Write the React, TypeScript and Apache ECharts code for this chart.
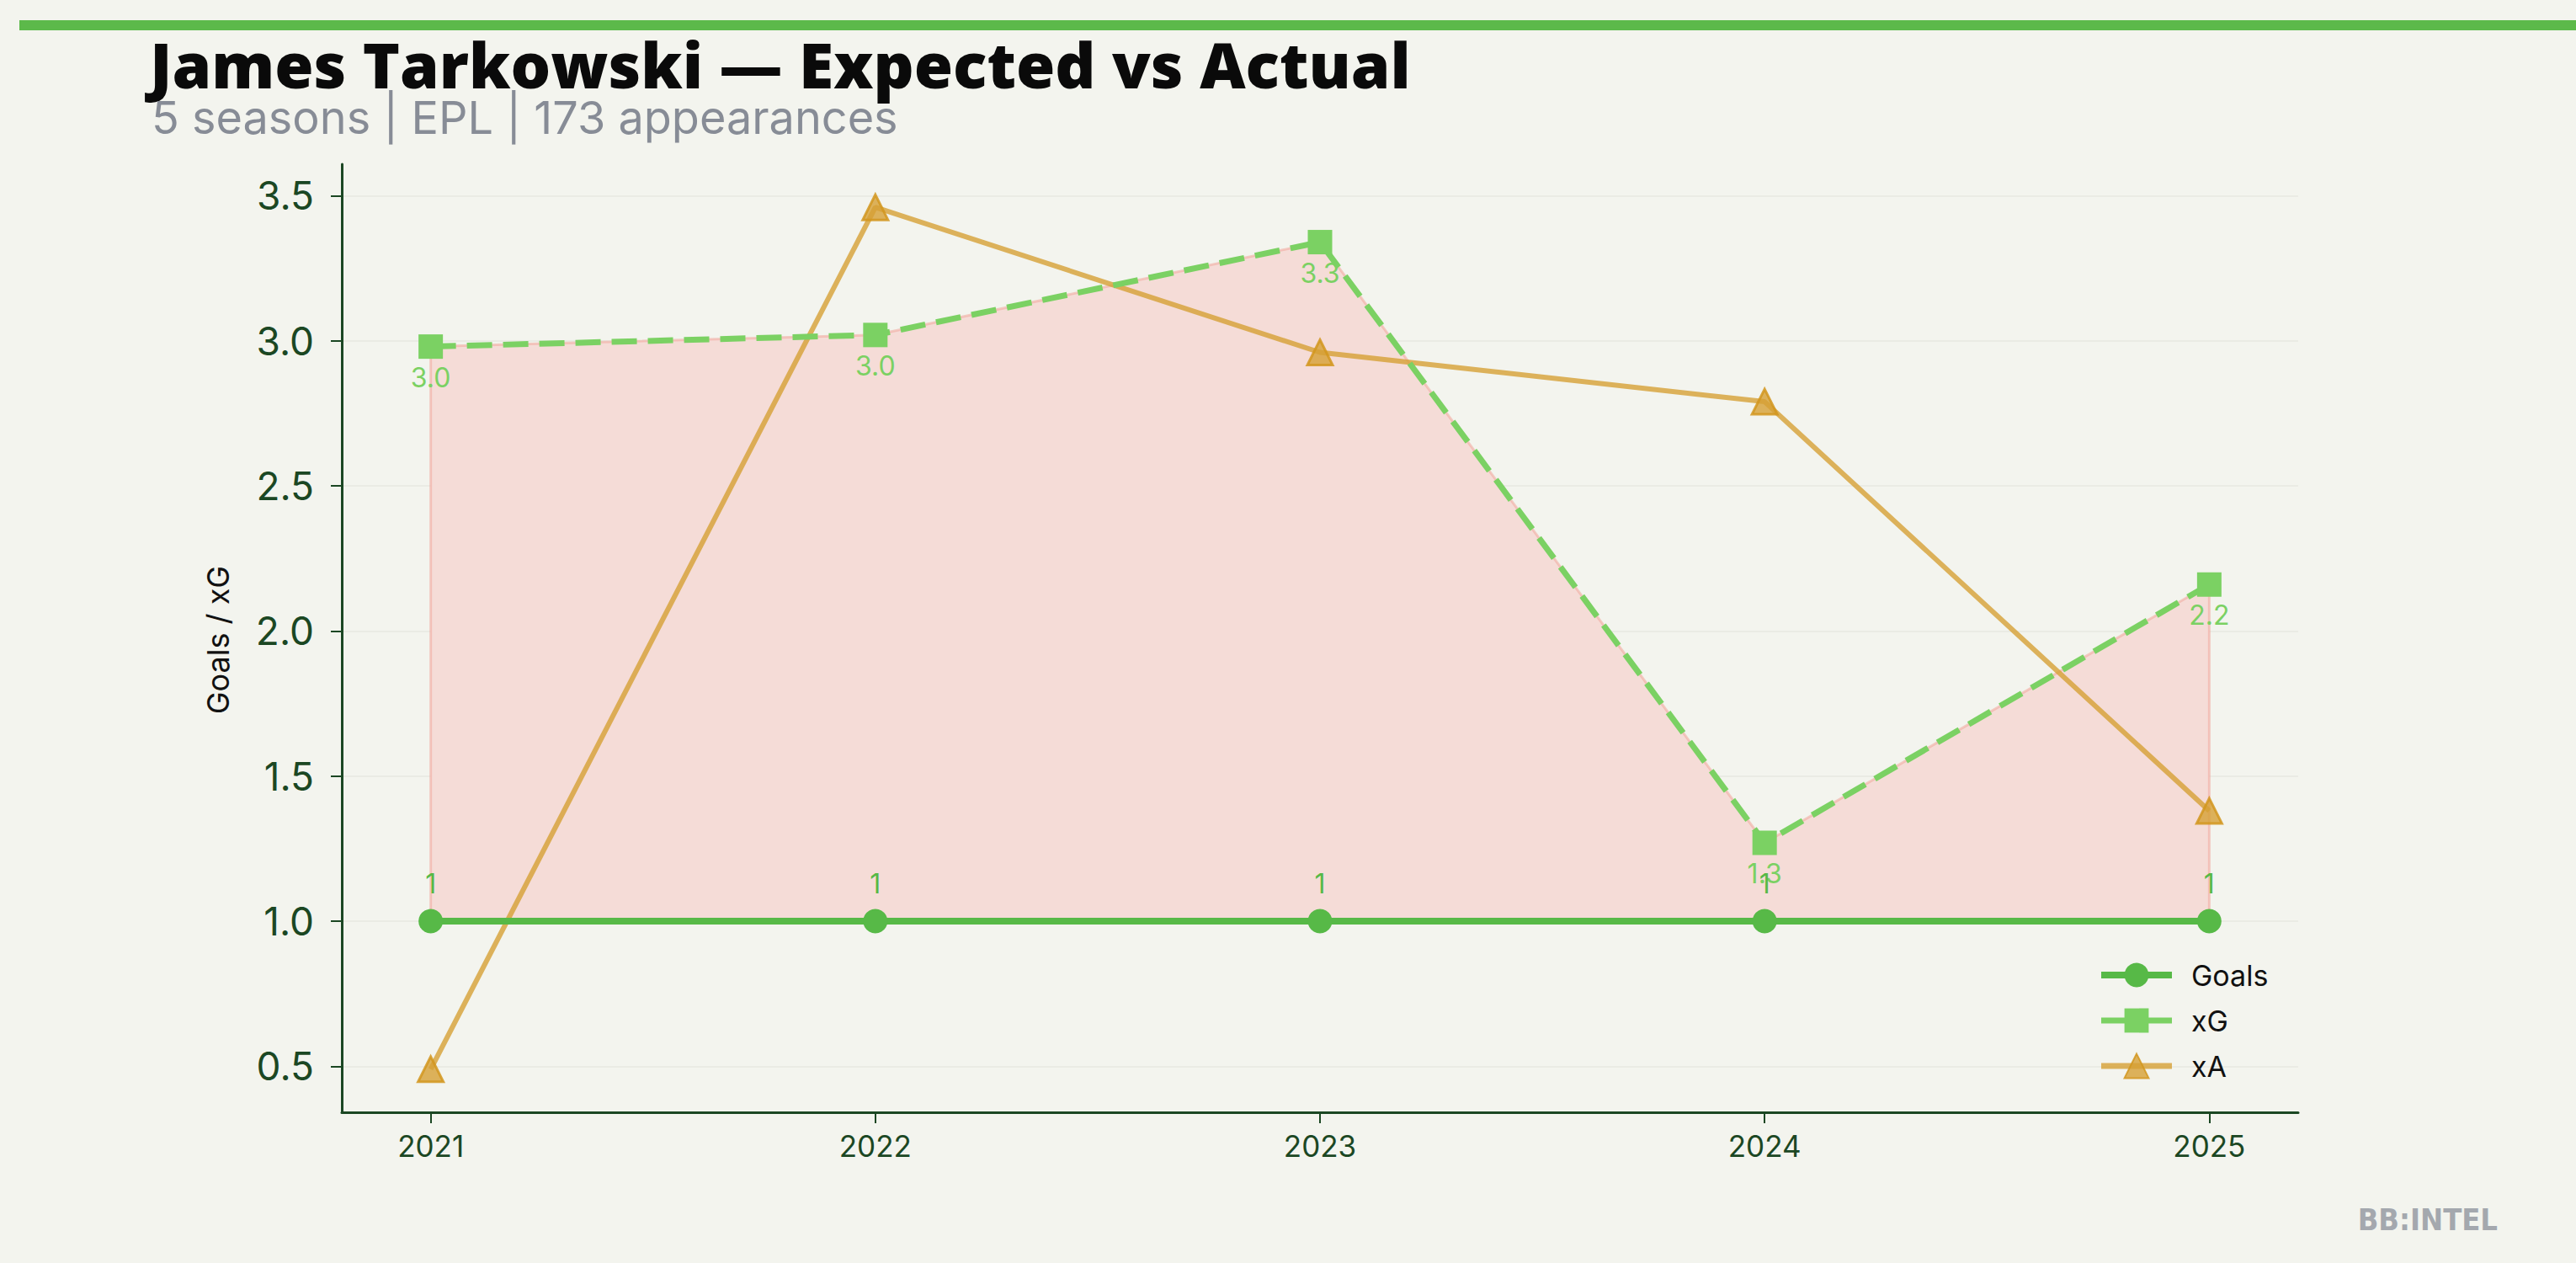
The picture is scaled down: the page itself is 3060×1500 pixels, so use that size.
import React, { useEffect, useRef } from "react";
import * as echarts from "echarts";

const years = [2021, 2022, 2023, 2024, 2025];
const goals = [1, 1, 1, 1, 1];
const xg = [2.98, 3.02, 3.34, 1.27, 2.16];
const xa = [0.49, 3.46, 2.96, 2.79, 1.38];
const yTicks = [0.5, 1.0, 1.5, 2.0, 2.5, 3.0, 3.5];

const TITLE = "James Tarkowski — Expected vs Actual";
const SUBTITLE = "5 seasons | EPL | 173 appearances";
const Y_NAME = "Goals / xG";

const AXIS = "#1b4723";
const GOALS_C = "#57b947";
const XG_C = "#7bd163";
const XA_C = "rgba(214,160,52,0.8)";

export default function App() {
  const ref = useRef<HTMLDivElement>(null);
  useEffect(() => {
    if (!ref.current) return;
    const chart = echarts.init(ref.current, undefined, { renderer: "svg" });
    const allY = [...goals, ...xg, ...xa];
    const lo = Math.min(...allY);
    const hi = Math.max(...allY);
    const pad = (hi - lo) * 0.05;
    const xPad = (years[years.length - 1] - years[0]) * 0.05;
    const pair = (arr: number[]) => years.map((y, i) => [y, arr[i]]);

    chart.setOption({
      animation: false,
      backgroundColor: "#f3f4ee",
      textStyle: { fontFamily: "Inter, Roboto, sans-serif" },
      grid: { left: 406, right: 330, top: 195, bottom: 179, containLabel: false },
      xAxis: {
        type: "value",
        min: years[0] - xPad,
        max: years[years.length - 1] + xPad,
        axisLine: { show: true, lineStyle: { color: AXIS, width: 3 } },
        axisTick: { show: true, length: 13, lineStyle: { color: AXIS, width: 2 }, customValues: years },
        axisLabel: {
          customValues: years,
          formatter: (v: number) => String(Math.round(v)),
          color: AXIS,
          fontSize: 35,
          margin: 22,
        },
        splitLine: { show: false },
      },
      yAxis: {
        type: "value",
        min: lo - pad,
        max: hi + pad,
        axisLine: { show: true, lineStyle: { color: AXIS, width: 3 } },
        axisTick: { show: true, length: 13, lineStyle: { color: AXIS, width: 2 }, customValues: yTicks },
        axisLabel: {
          customValues: yTicks,
          formatter: (v: number) => v.toFixed(1),
          color: AXIS,
          fontSize: 46,
          margin: 33,
        },
        splitLine: { show: true, lineStyle: { color: "#eaebe4", width: 2 } },
      },
      legend: {
        orient: "vertical",
        left: 2487,
        top: 1136,
        itemWidth: 84,
        itemHeight: 36,
        itemGap: 20,
        lineStyle: { width: 8 },
        data: [
          { name: "Goals" },
          { name: "xG", lineStyle: { type: "solid", width: 7 } },
          { name: "xA", lineStyle: { width: 7 } },
        ],
        textStyle: { color: "#111", fontSize: 34, padding: [0, 0, 0, 18] },
      },
      graphic: [
        { type: "rect", shape: { x: 23, y: 24, width: 3037, height: 12 }, style: { fill: "#5cb94a" } },
        {
          type: "text",
          x: 178,
          y: 76,
          style: {
            text: TITLE,
            fill: "#0a0a0a",
            font: "800 75px 'Open Sans', Lato, sans-serif",
            verticalAlign: "middle",
          },
        },
        {
          type: "text",
          x: 180,
          y: 139,
          style: {
            text: SUBTITLE,
            fill: "#878c96",
            font: "54px Inter, sans-serif",
            verticalAlign: "middle",
          },
        },
        {
          type: "text",
          x: 259,
          y: 760,
          rotation: Math.PI / 2,
          style: {
            text: Y_NAME,
            fill: "#111",
            font: "36px Inter, sans-serif",
            align: "center",
            verticalAlign: "middle",
          },
        },
        {
          type: "text",
          x: 2967,
          y: 1448,
          style: {
            text: "BB:INTEL",
            fill: "#a4a8ae",
            font: "bold 36px 'Liberation Sans Narrow', 'DejaVu Sans Condensed', sans-serif",
            align: "right",
            verticalAlign: "middle",
          },
        },
      ],
      series: [
        {
          name: "band",
          type: "custom",
          z: 1,
          silent: true,
          data: pair(xg),
          renderItem: (params: any, api: any) => {
            if (params.dataIndex !== 0) return null;
            const top = years.map((y, i) => api.coord([y, xg[i]]));
            const bottom = years.map((y, i) => api.coord([y, goals[i]])).reverse();
            return {
              type: "polygon",
              shape: { points: [...top, ...bottom] },
              style: { fill: "#f5dcd7", stroke: "rgba(240,165,155,0.55)", lineWidth: 3 },
            };
          },
        },
        {
          name: "Goals",
          type: "line",
          data: pair(goals),
          z: 5,
          symbol: "circle",
          symbolSize: 29,
          lineStyle: { color: GOALS_C, width: 8 },
          itemStyle: { color: GOALS_C },
          label: {
            show: true,
            position: "top",
            distance: 14,
            color: GOALS_C,
            fontSize: 32,
            formatter: (p: any) => String(Math.round(p.value[1])),
          },
        },
        {
          name: "xG",
          type: "line",
          data: pair(xg),
          z: 4,
          symbol: "rect",
          symbolSize: 29,
          lineStyle: { color: XG_C, width: 7, type: [30, 13] },
          itemStyle: { color: XG_C },
          label: {
            show: true,
            position: "bottom",
            distance: 6,
            color: XG_C,
            fontSize: 32,
            formatter: (p: any) => p.value[1].toFixed(1),
          },
        },
        {
          name: "xA",
          type: "line",
          data: pair(xa),
          z: 3,
          symbol: "triangle",
          symbolSize: 30,
          lineStyle: { color: XA_C, width: 6 },
          itemStyle: { color: XA_C, borderColor: "rgba(210,150,30,0.85)", borderWidth: 3 },
        },
      ],
    });
    return () => chart.dispose();
  }, []);
  return <div ref={ref} style={{ position: "absolute", left: 0, top: 0, width: 3060, height: 1500 }} />;
}
